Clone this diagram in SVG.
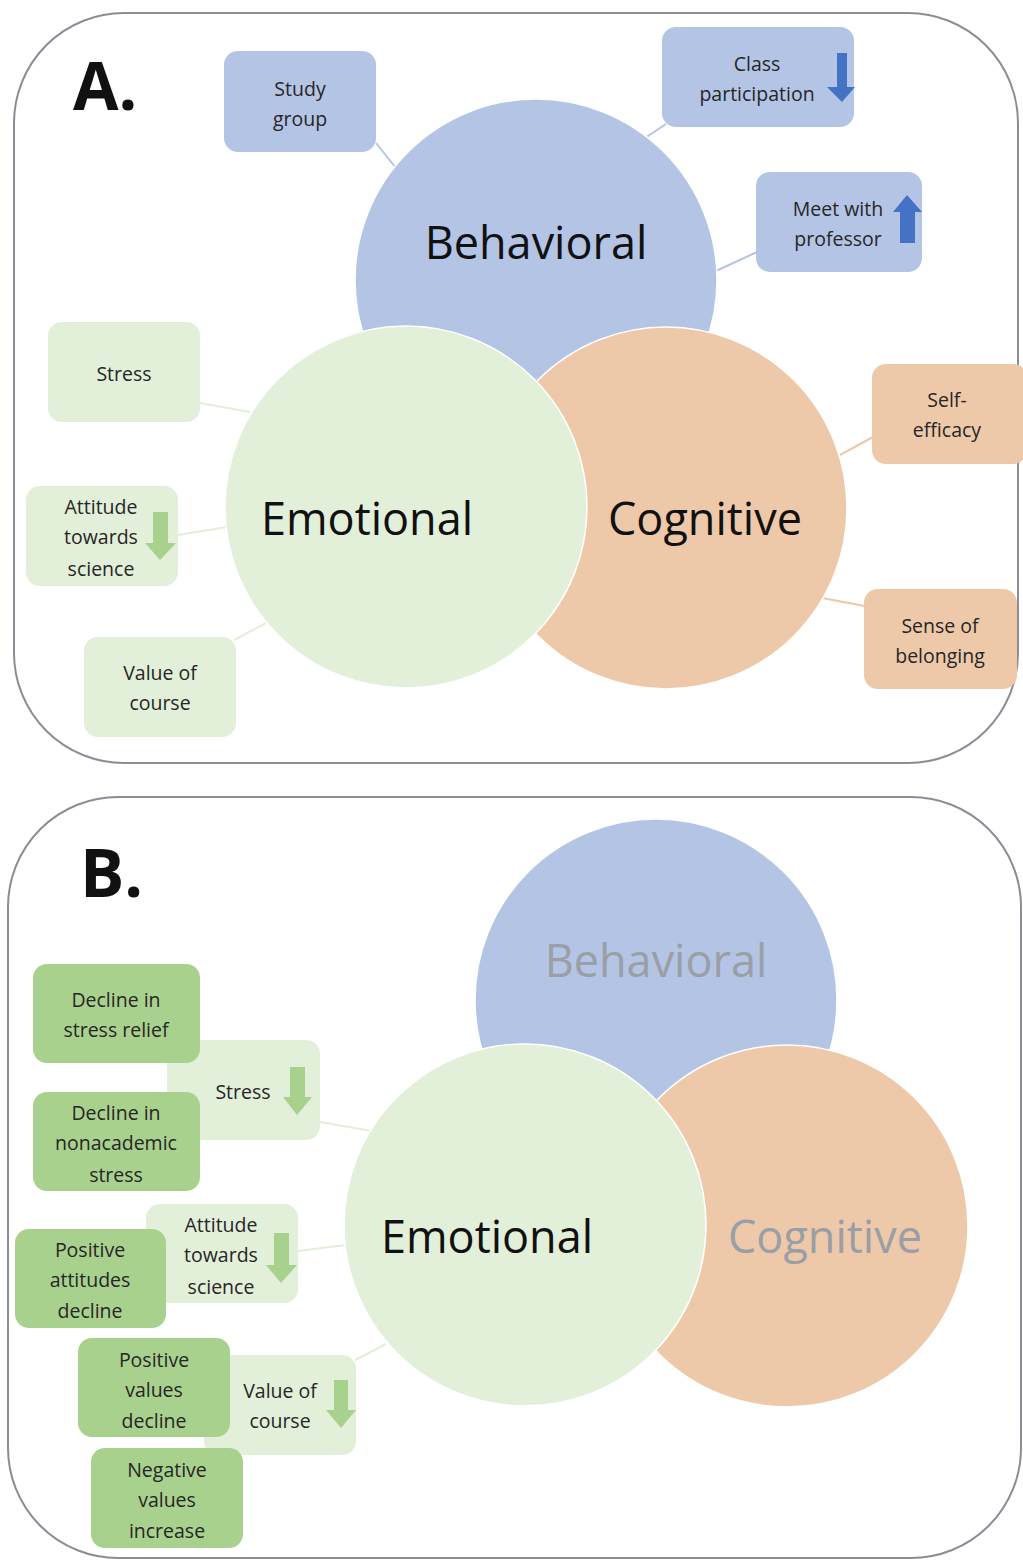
<svg xmlns="http://www.w3.org/2000/svg" width="1023" height="1563" viewBox="0 0 1023 1563">
<style>
.panel{fill:#fff;stroke:#8c8c96;stroke-width:2}
.cb{fill:#b4c4e5;stroke:#fff;stroke-width:1.5}
.co{fill:#eec9a9;stroke:#fff;stroke-width:1.5}
.cg{fill:#e2efd9;stroke:#fff;stroke-width:1.5}
.bb{fill:#b4c4e5}
.bo{fill:#eec9a9}
.bg{fill:#e2efd9}
.bd{fill:#a9d18e}
.big{font-family:"Open Sans","Liberation Sans",sans-serif;font-size:45px;text-anchor:middle;fill:#111}
.gray{fill:#9a9ea6}
.t{font-family:"Open Sans","Liberation Sans",sans-serif;font-size:19.5px;text-anchor:middle;fill:#262626}
.lbl{font-family:"Open Sans","Liberation Sans",sans-serif;font-size:66px;font-weight:bold;fill:#111}
.cn{fill:none;stroke-width:2}
.ab{fill:#4472c4}
.ag{fill:#a9d18e}
</style>
<g id="panelA"><rect class="panel" x="14" y="13" width="1004" height="750" rx="110" ry="110"/></g>
<g id="panelB"><rect class="panel" x="8" y="797" width="1013" height="761" rx="110" ry="110"/></g>
<text class="lbl" x="73" y="110">A.</text>
<text class="lbl" x="80" y="897">B.</text>

<g id="connectors">
<line class="cn" stroke="#b4c4e5" x1="376" y1="143" x2="396" y2="168"/>
<line class="cn" stroke="#b4c4e5" x1="666" y1="124" x2="645" y2="138"/>
<line class="cn" stroke="#b4c4e5" x1="757" y1="252" x2="716" y2="271"/>
<line class="cn" stroke="#e2efd9" x1="200" y1="403" x2="250" y2="412"/>
<line class="cn" stroke="#e2efd9" x1="178" y1="535" x2="227" y2="527"/>
<line class="cn" stroke="#e2efd9" x1="234" y1="640" x2="268" y2="622"/>
<line class="cn" stroke="#eec9a9" x1="873" y1="437" x2="840" y2="455"/>
<line class="cn" stroke="#eec9a9" x1="865" y1="606" x2="822" y2="598"/>
<line class="cn" stroke="#e2efd9" x1="320" y1="1122" x2="372" y2="1131"/>
<line class="cn" stroke="#e2efd9" x1="298" y1="1251" x2="346" y2="1245"/>
<line class="cn" stroke="#e2efd9" x1="355" y1="1360" x2="386" y2="1344"/>
</g>

<g id="behavioralA"><circle class="cb" cx="536" cy="280" r="181"/><text class="big" x="536" y="259">Behavioral</text></g>
<g id="cognitiveA"><circle class="co" cx="666" cy="508" r="181"/><text class="big" x="705" y="535">Cognitive</text></g>
<g id="emotionalA"><circle class="cg" cx="406" cy="507" r="181"/><text class="big" x="367" y="535">Emotional</text></g>

<g id="studyGroup"><rect class="bb" x="224" y="51" width="152" height="101" rx="14"/><text class="t" x="300" y="96">Study</text><text class="t" x="300" y="126">group</text></g>
<g id="classParticipation"><rect class="bb" x="662" y="27" width="192" height="100" rx="14"/><text class="t" x="757" y="71">Class</text><text class="t" x="757" y="101">participation</text><polygon class="ab" points="837,53 847,53 847,87 855,87 842,102 827,87 837,87"/></g>
<g id="meetProfessor"><rect class="bb" x="756" y="172" width="166" height="100" rx="14"/><text class="t" x="838" y="216">Meet with</text><text class="t" x="838" y="246">professor</text><polygon class="ab" points="900,243 915,243 915,212 922,212 907,195 893,212 900,212"/></g>

<g id="stressA"><rect class="bg" x="48" y="322" width="152" height="100" rx="14"/><text class="t" x="124" y="381">Stress</text></g>
<g id="attitudeA"><rect class="bg" x="26" y="486" width="152" height="100" rx="14"/><text class="t" x="101" y="514">Attitude</text><text class="t" x="101" y="544">towards</text><text class="t" x="101" y="576">science</text><polygon class="ag" points="153,512 168,512 168,543 176,543 160,560 145,543 153,543"/></g>
<g id="valueA"><rect class="bg" x="84" y="637" width="152" height="100" rx="14"/><text class="t" x="160" y="680">Value of</text><text class="t" x="160" y="710">course</text></g>
<g id="selfEfficacy"><rect class="bo" x="872" y="364" width="155" height="100" rx="14"/><text class="t" x="947" y="407">Self-</text><text class="t" x="947" y="437">efficacy</text></g>
<g id="belonging"><rect class="bo" x="864" y="589" width="153" height="100" rx="14"/><text class="t" x="940" y="633">Sense of</text><text class="t" x="940" y="663">belonging</text></g>

<g id="behavioralB"><circle class="cb" cx="656" cy="1000" r="181"/><text class="big gray" x="656" y="977">Behavioral</text></g>
<g id="cognitiveB"><circle class="co" cx="787" cy="1226" r="181"/><text class="big gray" x="825" y="1253">Cognitive</text></g>
<g id="emotionalB"><circle class="cg" cx="525" cy="1225" r="181"/><text class="big" x="487" y="1253">Emotional</text></g>

<g id="stressB"><rect class="bg" x="167" y="1040" width="153" height="100" rx="14"/><text class="t" x="243" y="1099">Stress</text><polygon class="ag" points="290,1067 305,1067 305,1097 312,1097 297,1115 283,1097 290,1097"/></g>
<g id="declineStressRelief"><rect class="bd" x="33" y="964" width="167" height="99" rx="14"/><text class="t" x="116" y="1007">Decline in</text><text class="t" x="116" y="1037">stress relief</text></g>
<g id="declineNonacademic"><rect class="bd" x="33" y="1092" width="167" height="99" rx="14"/><text class="t" x="116" y="1120">Decline in</text><text class="t" x="116" y="1150">nonacademic</text><text class="t" x="116" y="1182">stress</text></g>
<g id="attitudeB"><rect class="bg" x="146" y="1204" width="152" height="99" rx="14"/><text class="t" x="221" y="1232">Attitude</text><text class="t" x="221" y="1262">towards</text><text class="t" x="221" y="1294">science</text><polygon class="ag" points="274,1233 289,1233 289,1265 297,1265 281,1283 266,1265 274,1265"/></g>
<g id="positiveAttitudes"><rect class="bd" x="15" y="1229" width="151" height="99" rx="14"/><text class="t" x="90" y="1257">Positive</text><text class="t" x="90" y="1287">attitudes</text><text class="t" x="90" y="1318">decline</text></g>
<g id="valueB"><rect class="bg" x="204" y="1355" width="152" height="100" rx="14"/><text class="t" x="280" y="1398">Value of</text><text class="t" x="280" y="1428">course</text><polygon class="ag" points="334,1380 348,1380 348,1410 356,1410 341,1428 326,1410 334,1410"/></g>
<g id="positiveValues"><rect class="bd" x="78" y="1338" width="152" height="99" rx="14"/><text class="t" x="154" y="1367">Positive</text><text class="t" x="154" y="1397">values</text><text class="t" x="154" y="1428">decline</text></g>
<g id="negativeValues"><rect class="bd" x="91" y="1448" width="152" height="100" rx="14"/><text class="t" x="167" y="1477">Negative</text><text class="t" x="167" y="1507">values</text><text class="t" x="167" y="1538">increase</text></g>
</svg>
